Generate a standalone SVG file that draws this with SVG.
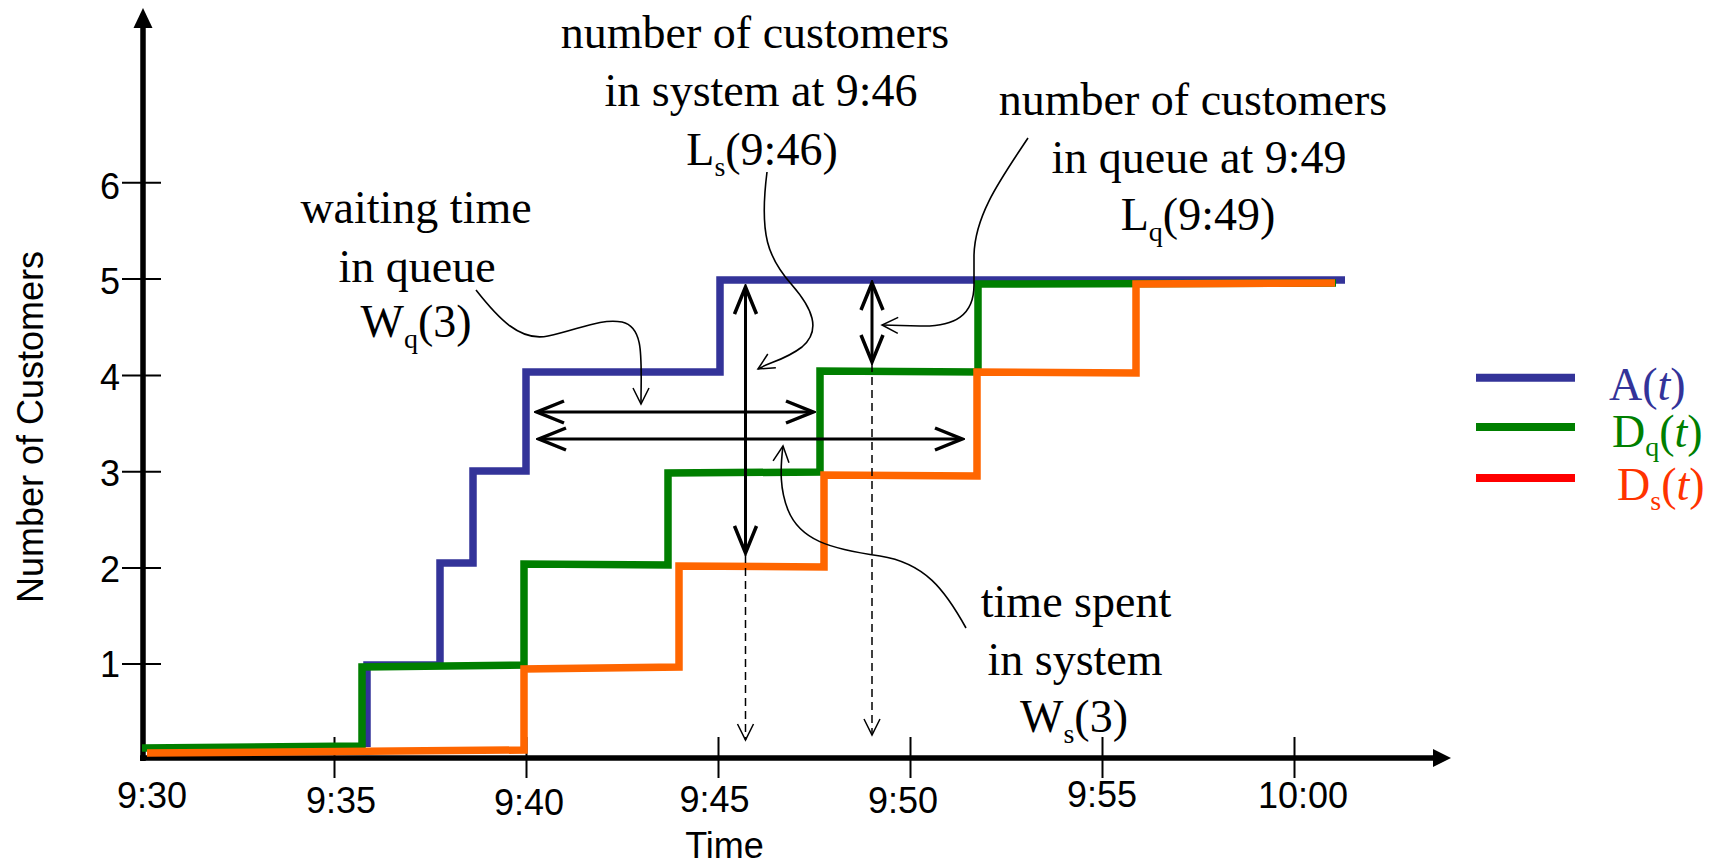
<svg xmlns="http://www.w3.org/2000/svg" width="1719" height="868" viewBox="0 0 1719 868">
<defs>
<style>
.ax{stroke:#000;stroke-width:5.5;fill:none}
.tk{stroke:#000;stroke-width:2;fill:none}
.sans{font-family:"Liberation Sans",Arial,sans-serif;font-size:36px;fill:#000}
.serif{font-family:"Liberation Serif","Times New Roman",serif;font-size:46px;fill:#000;text-anchor:middle}
.lg{font-family:"Liberation Serif","Times New Roman",serif;font-size:46px}
.curve{fill:none;stroke-width:7.5;stroke-linejoin:miter;stroke-linecap:butt}
.dbl{stroke:#000;stroke-width:3;fill:none;marker-start:url(#ah);marker-end:url(#ah)}
.dash{stroke:#000;stroke-width:1.5;fill:none;stroke-dasharray:8 5;marker-end:url(#th)}
.call{stroke:#000;stroke-width:1.6;fill:none;marker-end:url(#th)}
</style>
<marker id="ah" viewBox="0 0 32 26" refX="29" refY="13" markerWidth="32" markerHeight="26" markerUnits="userSpaceOnUse" orient="auto-start-reverse">
<path d="M2,2 L29,13 L2,24" fill="none" stroke="#000" stroke-width="3.5"/>
</marker>
<marker id="th" viewBox="0 0 20 20" refX="17" refY="10" markerWidth="20" markerHeight="20" markerUnits="userSpaceOnUse" orient="auto">
<path d="M1,2 L17,10 L1,18" fill="none" stroke="#000" stroke-width="1.5"/>
</marker>
</defs>
<rect width="1719" height="868" fill="#fff"/>

<g id="axes">
<line class="ax" x1="143" y1="761" x2="143" y2="24"/>
<polygon points="143,8 133.5,28 152.5,28" fill="#000"/>
<line class="ax" x1="140" y1="758" x2="1436" y2="758"/>
<polygon points="1451,758 1433,749 1433,767" fill="#000"/>
<g class="tk">
<line x1="122" y1="182.7" x2="161" y2="182.7"/>
<line x1="122" y1="279" x2="161" y2="279"/>
<line x1="122" y1="375.4" x2="161" y2="375.4"/>
<line x1="122" y1="471.7" x2="161" y2="471.7"/>
<line x1="122" y1="568" x2="161" y2="568"/>
<line x1="122" y1="664" x2="161" y2="664"/>
<line x1="334.5" y1="737" x2="334.5" y2="778"/>
<line x1="526.5" y1="737" x2="526.5" y2="778"/>
<line x1="718.5" y1="737" x2="718.5" y2="778"/>
<line x1="910.5" y1="737" x2="910.5" y2="778"/>
<line x1="1102.5" y1="737" x2="1102.5" y2="778"/>
<line x1="1294.5" y1="737" x2="1294.5" y2="778"/>
</g>
<g class="sans" text-anchor="end">
<text x="120" y="199">6</text>
<text x="120" y="294">5</text>
<text x="120" y="390">4</text>
<text x="120" y="486">3</text>
<text x="120" y="582">2</text>
<text x="120" y="677">1</text>
</g>
<g class="sans" text-anchor="middle">
<text x="152" y="808">9:30</text>
<text x="341" y="813">9:35</text>
<text x="529" y="815">9:40</text>
<text x="714.5" y="812">9:45</text>
<text x="903" y="813">9:50</text>
<text x="1102" y="807">9:55</text>
<text x="1303" y="808">10:00</text>
<text x="724.5" y="858">Time</text>
<text transform="translate(43,427) rotate(-90)">Number of Customers</text>
</g>
</g>

<g id="series-A">
<polyline class="curve" stroke="#333399" points="367,747 367,665 440,665 440,563 473,563 473,471 526,471 526,372 720,372 720,280 1345,280"/>
</g>
<g id="series-Dq">
<polyline class="curve" stroke="#007f00" points="142,748 362,746 362,667 524,665 524,564 668,565 668,473 820,472 820,371 978,372 978,284 1336,283"/>
</g>
<g id="series-Ds">
<polyline class="curve" stroke="#ff6600" points="147,753 524,750 524,669 679,667 679,566 824,567 824,475 977,476 977,372 1136,373 1136,284 1335,283"/>
</g>

<g id="connectors">
<line class="dbl" x1="537" y1="412" x2="813" y2="412"/>
<line class="dbl" x1="539" y1="439" x2="962" y2="439"/>
<line class="dbl" x1="745.5" y1="287" x2="745.5" y2="553"/>
<line class="dbl" x1="872" y1="283" x2="872" y2="362"/>
<line class="dash" x1="745.5" y1="555" x2="745.5" y2="740"/>
<line class="dash" x1="872" y1="364" x2="872" y2="735"/>
<path class="call" d="M476,290 C498,318 520,342 548,336 C578,330 600,318 622,322 C645,327 641,360 641,404"/>
<path class="call" d="M767,172 C759,235 768,258 792,285 C812,308 822,330 802,347 C785,360 770,362 758,369"/>
<path class="call" d="M1028,138 C1000,180 975,215 974,255 L974,285 C974,315 955,327 920,326 L882,325"/>
<path class="call" d="M966,628 C945,590 925,563 880,556 C830,549 800,540 788,510 C780,490 780,470 783,446"/>
</g>

<g id="label-Ls">
<text class="serif" x="755" y="48">number of customers</text>
<text class="serif" x="761" y="106">in system at 9:46</text>
<text class="serif" x="762" y="165">L<tspan font-size="28" dy="11">s</tspan><tspan dy="-11">(9:46)</tspan></text>
</g>
<g id="label-Lq">
<text class="serif" x="1193" y="115">number of customers</text>
<text class="serif" x="1199" y="173">in queue at 9:49</text>
<text class="serif" x="1198" y="230">L<tspan font-size="28" dy="11">q</tspan><tspan dy="-11">(9:49)</tspan></text>
</g>
<g id="label-Wq">
<text class="serif" x="416" y="223">waiting time</text>
<text class="serif" x="417" y="282">in queue</text>
<text class="serif" x="416" y="337">W<tspan font-size="28" dy="11">q</tspan><tspan dy="-11">(3)</tspan></text>
</g>
<g id="label-Ws">
<text class="serif" x="1076" y="617">time spent</text>
<text class="serif" x="1075" y="675">in system</text>
<text class="serif" x="1074" y="732">W<tspan font-size="28" dy="11">s</tspan><tspan dy="-11">(3)</tspan></text>
</g>

<g id="legend">
<line x1="1476" y1="377.7" x2="1575" y2="377.7" stroke="#333399" stroke-width="8"/>
<line x1="1476" y1="427" x2="1575" y2="427" stroke="#007f00" stroke-width="8"/>
<line x1="1476" y1="478" x2="1575" y2="478" stroke="#ff0000" stroke-width="8"/>
<text class="lg" x="1609" y="400" fill="#333399">A(<tspan font-style="italic">t</tspan>)</text>
<text class="lg" x="1612" y="447" fill="#007f00">D<tspan font-size="28" dy="9">q</tspan><tspan dy="-9">(</tspan><tspan font-style="italic">t</tspan>)</text>
<text class="lg" x="1617" y="500" fill="#ff3300">D<tspan font-size="28" dy="10">s</tspan><tspan dy="-10">(</tspan><tspan font-style="italic">t</tspan>)</text>
</g>
</svg>
